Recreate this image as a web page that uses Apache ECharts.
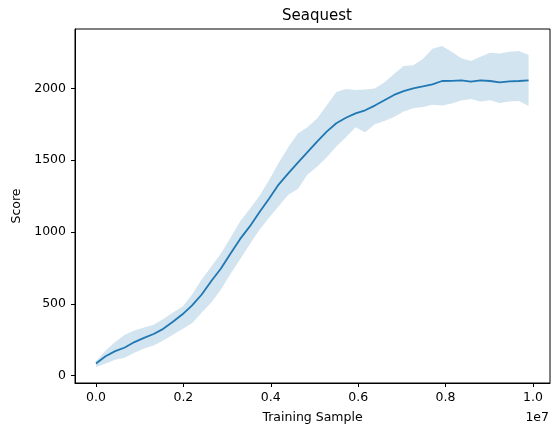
<!DOCTYPE html>
<html>
<head>
<meta charset="utf-8">
<script src="https://cdn.jsdelivr.net/npm/echarts@6/dist/echarts.min.js"></script>
<style>
  html, body { margin: 0; padding: 0; background: #fff; }
  #chart { width: 552px; height: 430px; }
</style>
</head>
<body>
<div id="chart"></div>
<script>
// training samples (raw)
var samples = [0, 220000, 440000, 660000, 880000, 1100000, 1320000, 1540000, 1760000, 1980000,
    2200000, 2420000, 2640000, 2860000, 3080000, 3300000, 3520000, 3740000, 3960000, 4180000,
    4400000, 4620000, 4840000, 5060000, 5280000, 5500000, 5720000, 5940000, 6160000, 6380000,
    6600000, 6820000, 7040000, 7260000, 7480000, 7700000, 7920000, 8140000, 8360000, 8580000,
    8800000, 9020000, 9240000, 9460000, 9680000, 9900000];
var meanScore = [85, 135, 171, 196, 234, 263, 290, 326, 375, 427,
    489, 565, 659, 746, 850, 952, 1039, 1137, 1231, 1330,
    1408, 1483, 1556, 1629, 1699, 1757, 1795, 1826, 1847, 1880,
    1917, 1954, 1981, 2000, 2013, 2027, 2051, 2052, 2056, 2047,
    2056, 2051, 2042, 2048, 2051, 2056];
var upperScore = [100, 175, 235, 285, 315, 335, 355, 395, 440, 480,
    565, 670, 760, 850, 960, 1075, 1160, 1250, 1360, 1480,
    1590, 1685, 1730, 1790, 1880, 1975, 1995, 1988, 1992, 1998,
    2040, 2100, 2155, 2160, 2205, 2275, 2295, 2255, 2209, 2190,
    2220, 2248, 2242, 2255, 2260, 2232];
var lowerScore = [60, 85, 110, 125, 160, 190, 210, 245, 285, 325,
    365, 440, 510, 600, 710, 810, 915, 1015, 1100, 1180,
    1260, 1300, 1400, 1455, 1520, 1595, 1660, 1730, 1695, 1750,
    1773, 1800, 1838, 1862, 1870, 1885, 1880, 1895, 1915, 1925,
    1908, 1917, 1898, 1908, 1912, 1877];
var xTicks = [0, 2000000, 4000000, 6000000, 8000000, 10000000];
var yTicks = [0, 500, 1000, 1500, 2000];

var font = 'DejaVu Sans';
var myChart = echarts.init(document.getElementById('chart'), null, { renderer: 'canvas' });

var bandData = samples.map(function (x, i) { return [x, lowerScore[i], upperScore[i]]; });
var meanData = samples.map(function (x, i) { return [x, meanScore[i]]; });

// band polygon: upper edge forward, lower edge back
function renderBand(params, api) {
    if (params.dataIndex !== 0) return;
    var pts = [];
    for (var i = 0; i < bandData.length; i++) {
        pts.push(api.coord([bandData[i][0], bandData[i][2]]));
    }
    for (var j = bandData.length - 1; j >= 0; j--) {
        pts.push(api.coord([bandData[j][0], bandData[j][1]]));
    }
    return {
        type: 'polygon',
        shape: { points: pts },
        style: { fill: 'rgba(31,119,180,0.2)', stroke: 'none' }
    };
}

var option = {
    animation: false,
    backgroundColor: '#fff',
    title: {
        text: 'Seaquest',
        left: 312,
        textAlign: 'center',
        top: 4,
        textStyle: { fontFamily: font, fontSize: 15, fontWeight: 'normal', color: '#000' }
    },
    grid: {
        left: 75, right: 2, top: 29, bottom: 47,
        show: true,
        borderColor: '#000',
        borderWidth: 1
    },
    graphic: [{
        type: 'text',
        right: 3,
        top: 411,
        style: { text: '1e7', font: '12.5px "DejaVu Sans"', fill: '#000' }
    }],
    xAxis: {
        type: 'value',
        min: -480000,
        max: 10390000,
        name: 'Training Sample',
        nameLocation: 'middle',
        nameGap: 28,
        nameTextStyle: { fontFamily: font, fontSize: 12.5, color: '#000' },
        splitLine: { show: false },
        axisLine: { show: true, onZero: false, lineStyle: { color: '#000', width: 1 } },
        axisTick: { show: true, length: 4, customValues: xTicks, lineStyle: { color: '#000' } },
        axisLabel: {
            customValues: xTicks,
            margin: 8,
            fontFamily: font, fontSize: 12.5, color: '#000',
            formatter: function (v) { return (v / 1e7).toFixed(1); }
        }
    },
    yAxis: {
        type: 'value',
        min: -51,
        max: 2413,
        name: 'Score',
        nameLocation: 'middle',
        nameGap: 47,
        nameTextStyle: { fontFamily: font, fontSize: 12.5, color: '#000' },
        splitLine: { show: false },
        axisLine: { show: true, onZero: false, lineStyle: { color: '#000', width: 1 } },
        axisTick: { show: true, length: 4, customValues: yTicks, lineStyle: { color: '#000' } },
        axisLabel: {
            customValues: yTicks,
            margin: 9,
            fontFamily: font, fontSize: 12.5, color: '#000',
            formatter: function (v) { return String(v); }
        }
    },
    series: [
        {
            type: 'custom',
            renderItem: renderBand,
            data: bandData,
            encode: { x: 0, y: [1, 2] },
            silent: true,
            z: 1
        },
        {
            type: 'line',
            data: meanData,
            symbol: 'none',
            lineStyle: { color: '#1f77b4', width: 1.8 },
            z: 2
        }
    ]
};
myChart.setOption(option);
</script>
</body>
</html>
